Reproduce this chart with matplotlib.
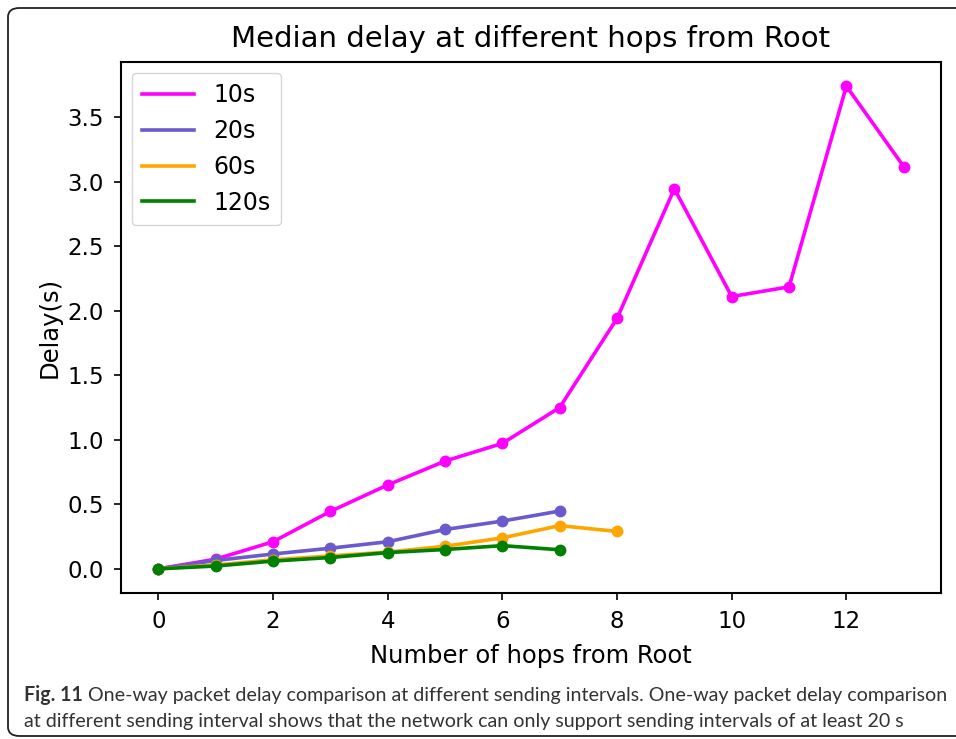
import numpy as np
import matplotlib
matplotlib.use('Agg')
import matplotlib.pyplot as plt
from matplotlib.patches import FancyBboxPatch
from matplotlib.lines import Line2D

hops_10 = [0, 1, 2, 3, 4, 5, 6, 7, 8, 9, 10, 11, 12, 13]
delay_10 = [0.0, 0.075, 0.21, 0.445, 0.65, 0.835, 0.972, 1.25, 1.94, 2.945, 2.11, 2.185, 3.74, 3.117]
hops_20 = [0, 1, 2, 3, 4, 5, 6, 7]
delay_20 = [0.0, 0.065, 0.115, 0.16, 0.21, 0.305, 0.37, 0.448]
hops_60 = [0, 1, 2, 3, 4, 5, 6, 7, 8]
delay_60 = [0.0, 0.03, 0.07, 0.1, 0.13, 0.175, 0.24, 0.335, 0.29]
hops_120 = [0, 1, 2, 3, 4, 5, 6, 7]
delay_120 = [0.0, 0.022, 0.06, 0.088, 0.126, 0.15, 0.18, 0.148]

series = [('10s', hops_10, delay_10, 'magenta'),
          ('20s', hops_20, delay_20, 'slateblue'),
          ('60s', hops_60, delay_60, 'orange'),
          ('120s', hops_120, delay_120, 'green')]

caption_bold = 'Fig. 11'
caption_1 = 'One-way packet delay comparison at different sending intervals. One-way packet delay comparison'
caption_2 = 'at different sending interval shows that the network can only support sending intervals of at least 20 s'

fig = plt.figure(figsize=(9.56, 7.39), dpi=100)
W, H = 956., 739.
ax = fig.add_axes([121/W, 1-593/H, (941-121)/W, (593-62)/H])

handles = []
for lab, x, y, c in series:
    ax.plot(x, y, '-o', color=c, lw=2.6, ms=7.5)
    handles.append(Line2D([], [], color=c, lw=2.6, label=lab))

ax.set_xticks([0, 2, 4, 6, 8, 10, 12])
ax.set_yticks(np.arange(0, 3.6, 0.5))
ax.tick_params(labelsize=16.5, length=5, width=1.2, pad=7.5)
for s in ax.spines.values():
    s.set_linewidth(1.5)
ax.set_xlabel('Number of hops from Root', fontsize=17.5, labelpad=8)
ax.set_ylabel('Delay(s)', fontsize=17.5, labelpad=4)
ax.set_title('Median delay at different hops from Root', fontsize=21, pad=11)
ax.legend(handles=handles, loc='upper left', fontsize=17, handlelength=2.2,
          borderpad=0.45, labelspacing=0.5, handletextpad=0.8,
          borderaxespad=0.45)

# outer frame of the journal figure
box = FancyBboxPatch((8/W, 1-736/H), (990-8)/W, (736-8)/H,
                     boxstyle='round,pad=0,rounding_size=0.012',
                     transform=fig.transFigure, fill=False,
                     edgecolor='#222222', lw=1.3, clip_on=False)
fig.patches.append(box)

# caption, sized so the first line fills the frame width
cfont = ['Lato', 'DejaVu Sans']
fs = 13
t1 = fig.text(24/W, 1-695/H, caption_bold, fontsize=fs, fontweight='bold',
              family=cfont, color='#333333', va='center')
t2 = fig.text(0, 1-695/H, caption_1, fontsize=fs, family=cfont,
              color='#333333', va='center')
t3 = fig.text(24/W, 1-721/H, caption_2, fontsize=fs, family=cfont,
              color='#333333', va='center')
fig.canvas.draw()
w = t1.get_window_extent().width + 5 + t2.get_window_extent().width
fs = fs * (945 - 24) / w
for t in (t1, t2, t3):
    t.set_fontsize(fs)
fig.canvas.draw()
bb = t1.get_window_extent()
t2.set_x((bb.x1 + 5)/W)

fig.savefig('out.png', dpi=100)
